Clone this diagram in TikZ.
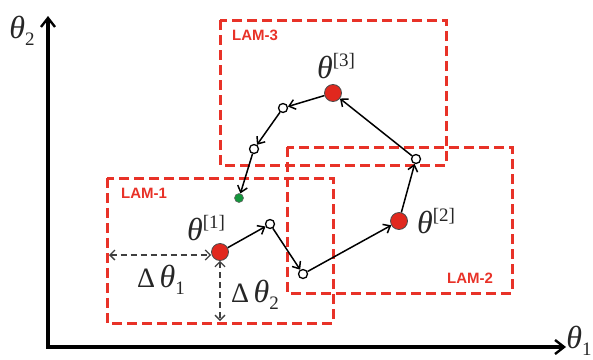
\documentclass[tikz,border=0pt]{standalone}
\usepackage{fontspec}
\setmainfont{Liberation Serif}
\newfontfamily\lamfont{Liberation Sans}
\usetikzlibrary{arrows.meta}
\definecolor{lamred}{RGB}{232,50,40}
\definecolor{dotred}{RGB}{225,40,30}
\definecolor{dotgreen}{RGB}{20,150,60}
\newcommand\bigth{{\fontsize{32}{32}\selectfont\itshape θ}}
\newcommand\thsup[1]{\bigth\raisebox{12pt}{\fontsize{19}{19}\selectfont[#1]}}
\newcommand\thsub[1]{\bigth\raisebox{-7pt}{\fontsize{19}{19}\selectfont #1}}
\begin{document}
\begin{tikzpicture}[x=1pt,y=-1pt,
  lambox/.style={draw=lamred,line width=3pt,dash pattern=on 10pt off 5pt},
  lamlabel/.style={text=lamred,font=\lamfont\bfseries\fontsize{15}{15}\selectfont,inner sep=0pt},
  axis/.style={line width=3.2pt,-{Straight Barb[length=9pt,width=14pt,line width=2.4pt]}},
  traj/.style={line width=1.5pt,-{Straight Barb[length=6pt,width=10pt,line width=1.5pt]}},
  dim/.style={line width=1.3pt,draw=black!75,dash pattern=on 6pt off 4pt,{Straight Barb[length=5pt,width=10pt]}-{Straight Barb[length=5pt,width=10pt]}},
  opendot/.style={circle,draw,line width=1.3pt,fill=white,minimum size=9pt,inner sep=0pt},
  reddot/.style={circle,draw=black!70,line width=0.8pt,fill=dotred,minimum size=17pt,inner sep=0pt},
  greendot/.style={circle,draw=black!60,line width=0.6pt,fill=dotgreen,minimum size=9pt,inner sep=0pt},
  lbl/.style={inner sep=0pt,text=black!85}]
\useasboundingbox (0,0) rectangle (593,359);
% axes
\coordinate (O) at (48,347);
\coordinate (ytop) at (48,16);
\coordinate (xend) at (566,347);
\draw[axis] (O) -- (ytop);
\draw[axis] ([xshift=-1.6pt]O) -- (xend);
\node[lbl] (th2) at (22,31) {\thsub{2}};
\node[lbl] (th1) at (579,341) {\thsub{1}};
% LAM boxes
\draw[lambox] (220,20) rectangle (446,165);
\node[lamlabel] (l3) at (255,35) {LAM-3};
\draw[lambox] (287,147) rectangle (512,293);
\node[lamlabel] (l2) at (470,278) {LAM-2};
\draw[lambox] (107,178) rectangle (333,323);
\node[lamlabel] (l1) at (144,193) {LAM-1};
% points
\node[reddot] (t1) at (220,252) {};
\node[opendot] (p1) at (270,224) {};
\node[opendot] (p2) at (303,274) {};
\node[reddot] (t2) at (399,221) {};
\node[opendot] (p3) at (416,159) {};
\node[reddot] (t3) at (333,93) {};
\node[opendot] (p4) at (283,108) {};
\node[opendot] (p5) at (254,149) {};
\node[greendot] (g) at (239,198) {};
% trajectory
\draw[traj] (t1) -- (p1);
\draw[traj] (p1) -- (p2);
\draw[traj] (p2) -- (t2);
\draw[traj] (t2) -- (p3);
\draw[traj] (p3) -- (t3);
\draw[traj] (t3) -- (p4);
\draw[traj] (p4) -- (p5);
\draw[traj] (p5) -- (g);
% labels
\node[lbl] (lt1) at (206,228) {\thsup{1}};
\node[lbl] (lt2) at (436,221) {\thsup{2}};
\node[lbl] (lt3) at (336,66) {\thsup{3}};
% dimension arrows
\coordinate (d1a) at (109,255);
\coordinate (d2b) at (220,321);
\draw[dim] (d1a) -- (t1.west |- d1a);
\draw[dim] (t1.south) -- (d2b);
\node[lbl] (dt1) at (161,280) {{\fontsize{28}{28}\selectfont Δ\,}\thsub{1}};
\node[lbl] (dt2) at (255,295) {{\fontsize{28}{28}\selectfont Δ\,}\thsub{2}};
\end{tikzpicture}
\end{document}
